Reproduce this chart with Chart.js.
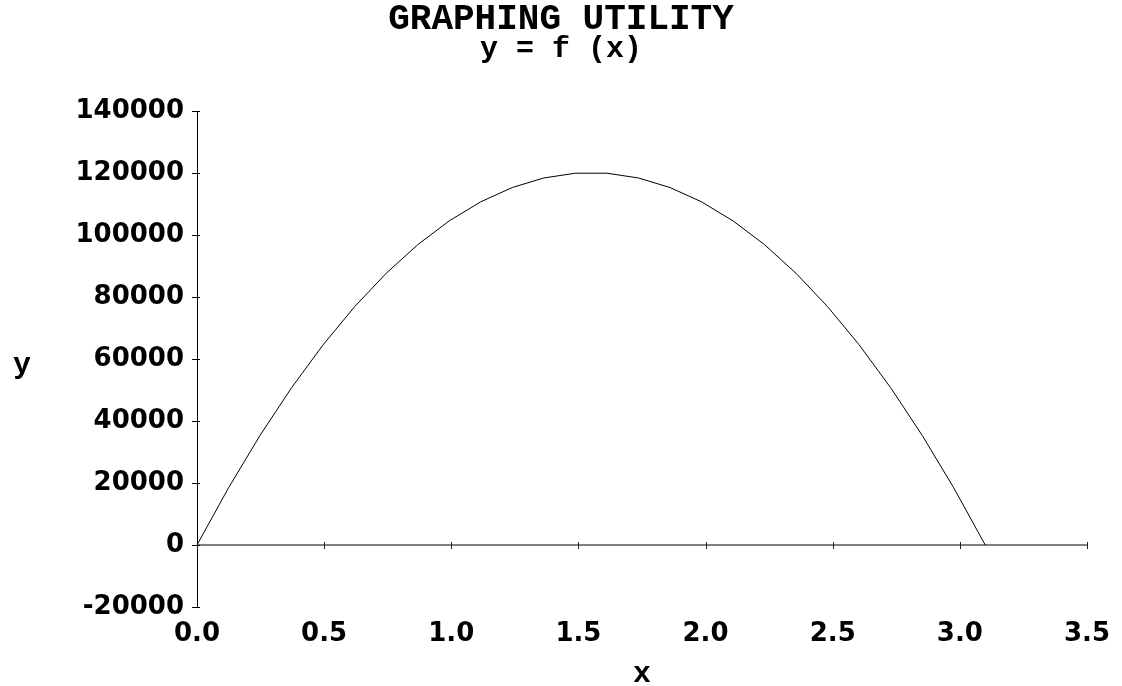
<!DOCTYPE html>
<html>
<head>
<meta charset="utf-8">
<script src="https://cdn.jsdelivr.net/npm/chart.js@4.4.1/dist/chart.umd.min.js"></script>
<style>
  html, body { margin: 0; padding: 0; background: #ffffff; }
  #wrap { width: 1122px; height: 686px; position: relative; }
</style>
</head>
<body>
<div id="wrap"><canvas id="c" width="1122" height="686"></canvas></div>
<script>
// ---- data ----
const titleText = 'GRAPHING UTILITY';
const subtitleText = 'y = f (x)';
const xAxisTitle = 'x';
const yAxisTitle = 'y';

const xValues = [0, 0.124, 0.248, 0.372, 0.496, 0.62, 0.744, 0.868, 0.992, 1.116, 1.24, 1.364, 1.488,
                 1.612, 1.736, 1.86, 1.984, 2.108, 2.232, 2.356, 2.48, 2.604, 2.728, 2.852, 2.976, 3.1];
const yValues = [0, 18450, 35370, 50740, 64580, 76880, 87640, 96870, 104560, 110710, 115320, 118400, 119930,
                 119930, 118400, 115320, 110710, 104560, 96870, 87640, 76880, 64580, 50740, 35370, 18450, 0];

const xTickLabels = ['0.0', '0.5', '1.0', '1.5', '2.0', '2.5', '3.0', '3.5'];
const yTickLabels = ['-20000', '0', '20000', '40000', '60000', '80000', '100000', '120000', '140000'];

const xMin = 0, xMax = 3.5, xStep = 0.5;
const yMin = -20000, yMax = 140000, yStep = 20000;

// ---- chart ----
const points = xValues.map((x, i) => ({ x: x, y: yValues[i] }));
const monoBold = '"Liberation Mono", "Courier New", monospace';
const tickFont = { family: '"DejaVu Sans", sans-serif', size: 26, weight: 'bold' };

const zeroAxisPlugin = {
  id: 'zeroAxis',
  beforeDatasetsDraw(chart) {
    const ctx = chart.ctx;
    const xs = chart.scales.x, ys = chart.scales.y;
    const y0 = ys.getPixelForValue(0);
    ctx.save();
    ctx.strokeStyle = '#808080';
    ctx.lineWidth = 2;
    ctx.beginPath();
    ctx.moveTo(xs.getPixelForValue(xMin), y0);
    ctx.lineTo(xs.getPixelForValue(xMax) + 1, y0);
    ctx.stroke();
    ctx.strokeStyle = '#222222';
    ctx.lineWidth = 1;
    xTickLabels.forEach(lbl => {
      const px = Math.round(xs.getPixelForValue(parseFloat(lbl))) + 0.5;
      ctx.beginPath();
      ctx.moveTo(px, y0 - 3);
      ctx.lineTo(px, y0 + 4);
      ctx.stroke();
    });
    // small continuation of the y-axis ticks to the right of the axis line
    ctx.strokeStyle = '#000000';
    const xl = Math.round(xs.getPixelForValue(xMin));
    yTickLabels.forEach(lbl => {
      const py = Math.round(ys.getPixelForValue(parseFloat(lbl))) + 0.5;
      ctx.beginPath();
      ctx.moveTo(xl, py);
      ctx.lineTo(xl + 3, py);
      ctx.stroke();
    });
    ctx.restore();
  },
  afterDraw(chart) {
    const ctx = chart.ctx;
    ctx.save();
    ctx.fillStyle = '#000000';
    ctx.font = 'bold 30px ' + monoBold;
    ctx.textAlign = 'center';
    ctx.textBaseline = 'middle';
    ctx.fillText(yAxisTitle, 22, 365);
    ctx.restore();
  }
};

new Chart(document.getElementById('c'), {
  type: 'line',
  data: {
    datasets: [{
      data: points,
      borderColor: '#000000',
      borderWidth: 1,
      pointRadius: 0,
      tension: 0,
      fill: false
    }]
  },
  options: {
    responsive: false,
    animation: false,
    devicePixelRatio: 1,
    layout: { padding: { top: 0, right: 35, bottom: 0, left: 35 } },
    plugins: {
      legend: { display: false },
      tooltip: { enabled: false },
      title: {
        display: true,
        text: titleText,
        color: '#000000',
        font: { family: monoBold, size: 36, weight: 'bold', lineHeight: 1.0 },
        padding: { top: 2, bottom: 0 }
      },
      subtitle: {
        display: true,
        text: subtitleText,
        color: '#000000',
        font: { family: monoBold, size: 30, weight: 'bold', lineHeight: 1.0 },
        padding: { top: -4, bottom: 47 }
      }
    },
    scales: {
      x: {
        type: 'linear',
        position: 'bottom',
        min: xMin,
        max: xMax,
        grid: { display: false, drawTicks: false },
        border: { display: false },
        ticks: {
          stepSize: xStep,
          color: '#000000',
          font: tickFont,
          padding: 12,
          maxRotation: 0,
          autoSkip: false,
          callback: (v) => {
            const i = Math.round((v - xMin) / xStep);
            return xTickLabels[i];
          }
        },
        title: {
          display: true,
          text: xAxisTitle,
          color: '#000000',
          font: { family: monoBold, size: 30, weight: 'bold', lineHeight: 1.0 },
          padding: { top: 0, bottom: -3 }
        },
        afterFit: (s) => { s.height = 79; }
      },
      y: {
        type: 'linear',
        position: 'left',
        min: yMin,
        max: yMax,
        grid: { drawOnChartArea: false, drawTicks: true, tickLength: 5, color: '#000000', lineWidth: 1 },
        border: { display: true, color: '#000000', width: 1 },
        ticks: {
          stepSize: yStep,
          color: '#000000',
          font: tickFont,
          padding: 8,
          autoSkip: false,
          callback: (v) => {
            const i = Math.round((v - yMin) / yStep);
            return yTickLabels[i];
          }
        },
        afterFit: (s) => { s.width = 162; }
      }
    }
  },
  plugins: [zeroAxisPlugin]
});
</script>
</body>
</html>
